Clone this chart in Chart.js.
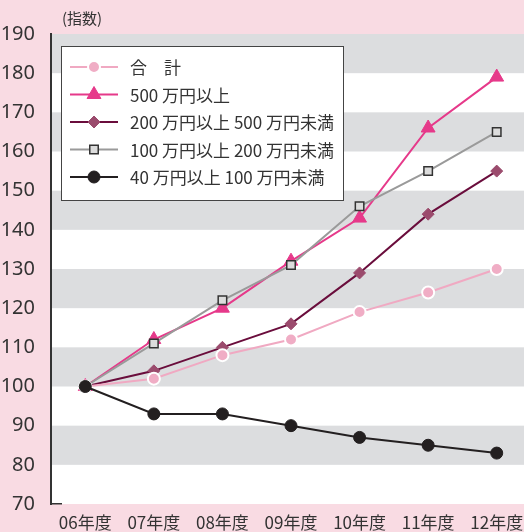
<!DOCTYPE html>
<html>
<head>
<meta charset="utf-8">
<script src="https://cdn.jsdelivr.net/npm/chart.js@4/dist/chart.umd.min.js"></script>
<style>
  html, body { margin: 0; padding: 0; background: #f9dbe3; overflow: hidden; }
  #wrap { position: relative; width: 540px; height: 532px; }
</style>
</head>
<body>
<div id="wrap"><canvas id="chart" width="540" height="532"></canvas></div>
<script>
// data
const years = ['06年度', '07年度', '08年度', '09年度', '10年度', '11年度', '12年度'];
const total = [100, 102, 108, 112, 119, 124, 130];
const over500 = [100, 112, 120, 132, 143, 166, 179];
const from200to500 = [100, 104, 110, 116, 129, 144, 155];
const from100to200 = [100, 111, 122, 131, 146, 155, 165];
const from40to100 = [100, 93, 93, 90, 87, 85, 83];
const yMin = 70, yMax = 190, yStep = 10;

const font = '"Noto Sans CJK JP", "Noto Sans", sans-serif';

// grey / white bands behind the plot
const bands = {
    id: 'bands',
    beforeDraw(chart) {
        const { ctx, chartArea: a, scales: { y } } = chart;
        ctx.save();
        ctx.fillStyle = '#ffffff';
        ctx.fillRect(a.left, a.top, chart.width - a.left, a.bottom - a.top);
        ctx.fillStyle = '#dcdddf';
        for (let v = yMax; v > yMin; v -= 2 * yStep) {
            const t = y.getPixelForValue(v), b = y.getPixelForValue(v - yStep);
            ctx.fillRect(a.left, t, chart.width - a.left, b - t);
        }
        ctx.fillStyle = '#333';
        ctx.font = '15px ' + font;
        ctx.textBaseline = 'middle';
        ctx.fillText('(指数)', 62, 18);
        // small stub at the bottom of the axis
        ctx.fillRect(a.left - 1, a.bottom - 1, 12, 1.5);
        ctx.restore();
    }
};

// legend box drawn inside the plot
const boxLegend = {
    id: 'boxLegend',
    afterDraw(chart) {
        const ctx = chart.ctx;
        const x0 = 61, y0 = 46, w = 282, h = 154;
        ctx.save();
        ctx.fillStyle = '#fff';
        ctx.fillRect(x0, y0, w, h);
        ctx.strokeStyle = '#444';
        ctx.lineWidth = 1;
        ctx.strokeRect(x0 + 0.5, y0 + 0.5, w, h);
        chart.data.datasets.forEach((ds, i) => {
            const cy = 67 + i * 27.5;
            ctx.strokeStyle = ds.borderColor;
            ctx.lineWidth = ds.borderWidth;
            ctx.beginPath();
            ctx.moveTo(70, cy);
            ctx.lineTo(118, cy);
            ctx.stroke();
            ctx.fillStyle = ds.pointBackgroundColor;
            ctx.strokeStyle = ds.pointBorderColor;
            ctx.lineWidth = ds.pointBorderWidth;
            Chart.helpers.drawPoint(ctx, {
                pointStyle: ds.pointStyle, radius: ds.pointRadius, rotation: 0, borderWidth: ds.pointBorderWidth
            }, 94, cy);
            ctx.fillStyle = '#333';
            ctx.font = '17px ' + font;
            ctx.textBaseline = 'middle';
            ctx.fillText(ds.label, 130, cy + 1);
        });
        ctx.restore();
    }
};

const ctx = document.getElementById('chart').getContext('2d');
const chart = new Chart(ctx, {
    type: 'line',
    data: {
        labels: years,
        datasets: [{
            label: '合　計',
            data: total,
            order: 0,
            borderColor: '#f0a9c2',
            borderWidth: 2,
            pointStyle: 'circle',
            pointRadius: 6,
            pointBackgroundColor: '#f0adc5',
            pointBorderColor: '#ffffff',
            pointBorderWidth: 2
        }, {
            label: '500 万円以上',
            data: over500,
            order: 1,
            borderColor: '#e6398a',
            borderWidth: 2,
            pointStyle: 'triangle',
            pointRadius: 8,
            pointBackgroundColor: '#e6398a',
            pointBorderColor: '#e6398a',
            pointBorderWidth: 1
        }, {
            label: '200 万円以上 500 万円未満',
            data: from200to500,
            order: 0,
            borderColor: '#6a0d3c',
            borderWidth: 2,
            pointStyle: 'rectRot',
            pointRadius: 6,
            pointBackgroundColor: '#9b4b6d',
            pointBorderColor: '#9b4b6d',
            pointBorderWidth: 1
        }, {
            label: '100 万円以上 200 万円未満',
            data: from100to200,
            order: 0,
            borderColor: '#9a9a9a',
            borderWidth: 2,
            pointStyle: 'rect',
            pointRadius: 6,
            pointBackgroundColor: '#dcdcdc',
            pointBorderColor: '#333333',
            pointBorderWidth: 1.5
        }, {
            label: '40 万円以上 100 万円未満',
            data: from40to100,
            order: -1,
            borderColor: '#231f20',
            borderWidth: 2,
            pointStyle: 'circle',
            pointRadius: 6,
            pointBackgroundColor: '#231f20',
            pointBorderColor: '#231f20',
            pointBorderWidth: 1
        }]
    },
    options: {
        responsive: false,
        animation: false,
        layout: { padding: { top: 34, right: 0, left: 0, bottom: 0 } },
        plugins: { legend: { display: false }, tooltip: { enabled: false } },
        elements: { line: { tension: 0 } },
        scales: {
            x: {
                offset: true,
                grid: { display: false },
                border: { display: false },
                ticks: { color: '#333', font: { size: 17, family: font }, padding: 0, maxRotation: 0 },
                afterFit(s) { s.height = 28; }
            },
            y: {
                min: yMin,
                max: yMax,
                grid: { display: false },
                border: { display: true, color: '#333', width: 2 },
                ticks: { stepSize: yStep, color: '#333', font: { size: 20, family: '"Noto Sans", sans-serif' }, padding: 8 },
                afterFit(s) { s.width = 51; }
            }
        }
    },
    plugins: [bands, boxLegend]
});
</script>
</body>
</html>
